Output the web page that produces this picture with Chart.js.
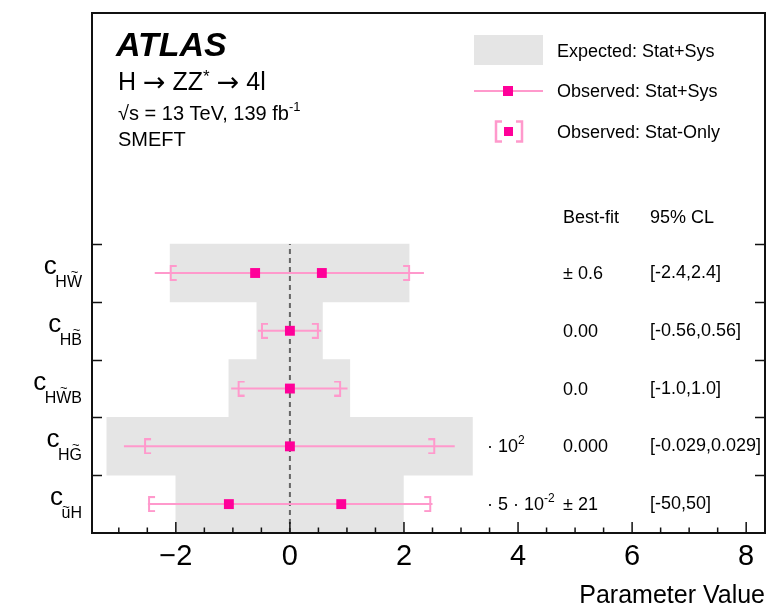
<!DOCTYPE html>
<html>
<head>
<meta charset="utf-8">
<script src="https://cdn.jsdelivr.net/npm/chart.js@4.4.1/dist/chart.umd.min.js"></script>
<style>
  html, body { margin: 0; padding: 0; background: #fff; }
  canvas { display: block; }
</style>
</head>
<body>
<canvas id="smeftChart" width="772" height="609"></canvas>
<script>
// rows, top to bottom
const coefficients = ['HW', 'HB', 'HWB', 'HG', 'uH'];
const tildeIndex = [1, 1, 1, 1, 0];
const rowY = [4.5, 3.5, 2.5, 1.5, 0.5];

// expected (stat+sys) grey band
const expectedLo = [-2.1, -0.58, -1.07, -3.21, -2.0];
const expectedHi = [2.09, 0.57, 1.05, 3.2, 1.99];

// observed
const bestFit = [[-0.61, 0.56], [0], [0], [0], [-1.07, 0.9]];
const statSysLo = [-2.37, -0.56, -1.03, -2.91, -2.49];
const statSysHi = [2.35, 0.55, 1.01, 2.89, 2.5];
const statOnlyLo = [-2.09, -0.49, -0.9, -2.54, -2.47];
const statOnlyHi = [2.09, 0.49, 0.88, 2.53, 2.46];

// right-hand table
const bestFitText = ['± 0.6', '0.00', '0.0', '0.000', '± 21'];
const clText = ['[-2.4,2.4]', '[-0.56,0.56]', '[-1.0,1.0]', '[-0.029,0.029]', '[-50,50]'];
const scaleBase = ['', '', '', '· 10', '· 5 · 10'];
const scaleExp = ['', '', '', '2', '-2'];

const xMajorTicks = [-2, 0, 2, 4, 6, 8];
const xMinorStep = 0.5;
const yRowTicks = [1, 2, 3, 4, 5];

const FONT = '"Liberation Sans", Helvetica, Arial, sans-serif';
const ARROW_FONT = '"DejaVu Sans", sans-serif';
const PINK = '#ff0099';
const PINK_LIGHT = '#ff99cc';
const GREY = '#e5e5e5';

Chart.defaults.font.family = FONT;
Chart.defaults.color = '#000';

// bracket markers: vertical bar sits on the point, serifs point inward
function bracketImage(side) {
  const w = 6, h = 14, lw = 2;
  const c = document.createElement('canvas');
  c.width = 2 * w + 2; c.height = h + lw;
  const g = c.getContext('2d');
  const cx = c.width / 2, top = lw / 2, bot = h + lw / 2;
  const tip = side === 'left' ? cx + w : cx - w;
  g.strokeStyle = PINK_LIGHT;
  g.lineWidth = lw;
  g.beginPath();
  g.moveTo(tip, top); g.lineTo(cx, top); g.lineTo(cx, bot); g.lineTo(tip, bot);
  g.stroke();
  return c;
}

const markerData = [];
bestFit.forEach((pts, i) => pts.forEach(v => markerData.push({ x: v, y: rowY[i] })));

const errorLines = rowY.map((y, i) => ({
  type: 'scatter',
  showLine: true,
  data: [{ x: statSysLo[i], y }, { x: statSysHi[i], y }],
  borderColor: PINK_LIGHT,
  borderWidth: 2,
  pointRadius: 0,
  order: 2
}));

// draws text pieces left to right, returns end x
function drawRun(ctx, parts, x, baseline) {
  parts.forEach(([text, font, dy]) => {
    ctx.font = font;
    ctx.fillText(text, x, baseline + (dy || 0));
    x += ctx.measureText(text).width;
  });
  return x;
}

const atlasDecor = {
  id: 'atlasDecor',
  afterDraw(chart) {
    const { ctx, chartArea: a, scales: { x, y } } = chart;
    ctx.save();

    // frame
    ctx.strokeStyle = '#111';
    ctx.lineWidth = 2;
    ctx.strokeRect(a.left, a.top, a.right - a.left, a.bottom - a.top);

    // inward ticks
    ctx.lineWidth = 1.5;
    ctx.beginPath();
    x.ticks.forEach(t => {
      const px = x.getPixelForValue(t.value);
      const len = xMajorTicks.includes(t.value) ? 11 : 5.5;
      ctx.moveTo(px, a.bottom); ctx.lineTo(px, a.bottom - len);
    });
    yRowTicks.forEach(v => {
      const py = Math.round(y.getPixelForValue(v)) + 0.5;
      ctx.moveTo(a.left, py); ctx.lineTo(a.left + 10, py);
      ctx.moveTo(a.right, py); ctx.lineTo(a.right - 10, py);
    });
    ctx.stroke();

    ctx.fillStyle = '#000';
    ctx.textBaseline = 'alphabetic';

    // y labels: c with subscript and tilde
    coefficients.forEach((sub, i) => {
      const py = y.getPixelForValue(rowY[i]);
      ctx.font = '16px ' + FONT;
      ctx.textAlign = 'left';
      const w = ctx.measureText(sub).width;
      const sx = a.left - 10 - w;
      ctx.fillText(sub, sx, py + 14);
      const k = tildeIndex[i];
      const before = ctx.measureText(sub.slice(0, k)).width;
      const cw = ctx.measureText(sub[k]).width;
      const lower = sub[k] === sub[k].toLowerCase();
      ctx.font = '13px ' + FONT;
      ctx.textAlign = 'center';
      ctx.fillText('~', sx + before + cw / 2, py + (lower ? 7 : 3));
      ctx.font = '26px ' + FONT;
      ctx.textAlign = 'right';
      ctx.fillText('c', sx + 1.5, py + 1);
    });

    // header
    ctx.textAlign = 'left';
    ctx.font = 'italic bold 34px ' + FONT;
    ctx.fillText('ATLAS', 116, 56);
    drawRun(ctx, [
      ['H ', '25px ' + FONT],
      ['\u2192', '27px ' + ARROW_FONT, 1],
      [' ZZ', '25px ' + FONT],
      ['*', '17px ' + FONT, -8],
      [' ', '25px ' + FONT],
      ['\u2192', '27px ' + ARROW_FONT, 1],
      [' 4l', '25px ' + FONT]
    ], 118, 90);
    drawRun(ctx, [
      ['\u221As = 13 TeV, 139 fb', '20px ' + FONT],
      ['-1', '13px ' + FONT, -9]
    ], 118, 120);
    ctx.font = '20px ' + FONT;
    ctx.fillText('SMEFT', 118, 146);

    // legend
    ctx.fillStyle = GREY;
    ctx.fillRect(474, 35, 69, 30);
    ctx.strokeStyle = PINK_LIGHT;
    ctx.lineWidth = 2;
    ctx.beginPath();
    ctx.moveTo(474, 91); ctx.lineTo(543, 91);
    ctx.stroke();
    ctx.lineWidth = 2.5;
    ctx.beginPath();
    ctx.moveTo(502, 121.5); ctx.lineTo(496, 121.5); ctx.lineTo(496, 141.5); ctx.lineTo(502, 141.5);
    ctx.moveTo(516, 121.5); ctx.lineTo(522, 121.5); ctx.lineTo(522, 141.5); ctx.lineTo(516, 141.5);
    ctx.stroke();
    ctx.fillStyle = PINK;
    ctx.fillRect(503, 86, 10, 10);
    ctx.fillRect(504, 127, 9, 9);
    ctx.fillStyle = '#000';
    ctx.font = '18px ' + FONT;
    ctx.fillText('Expected: Stat+Sys', 557, 57);
    ctx.fillText('Observed: Stat+Sys', 557, 97);
    ctx.fillText('Observed: Stat-Only', 557, 138);

    // table on the right
    ctx.fillText('Best-fit', 563, 223);
    ctx.fillText('95% CL', 650, 223);
    rowY.forEach((v, i) => {
      const py = y.getPixelForValue(v);
      ctx.font = '18px ' + FONT;
      ctx.fillText(bestFitText[i], 563, py + 6);
      ctx.fillText(clText[i], 650, py + 5);
      if (scaleBase[i]) {
        drawRun(ctx, [
          [scaleBase[i], '18px ' + FONT],
          [scaleExp[i], '12px ' + FONT, -8]
        ], 487, py + 6);
      }
    });

    ctx.restore();
  }
};

new Chart(document.getElementById('smeftChart'), {
  type: 'scatter',
  data: {
    datasets: [
      {
        type: 'scatter',
        data: markerData,
        pointStyle: 'rect',
        pointRadius: 7,
        backgroundColor: PINK,
        borderColor: PINK,
        borderWidth: 0,
        order: 0
      },
      {
        type: 'scatter',
        data: statOnlyLo.map((v, i) => ({ x: v, y: rowY[i] })),
        pointStyle: bracketImage('left'),
        pointRadius: 5,
        order: 1
      },
      {
        type: 'scatter',
        data: statOnlyHi.map((v, i) => ({ x: v, y: rowY[i] })),
        pointStyle: bracketImage('right'),
        pointRadius: 5,
        order: 1
      },
      ...errorLines,
      {
        type: 'scatter',
        showLine: true,
        data: [{ x: 0, y: 0 }, { x: 0, y: 5 }],
        borderColor: '#666',
        borderDash: [5, 4],
        borderWidth: 2,
        pointRadius: 0,
        order: 3
      },
      {
        type: 'bar',
        indexAxis: 'y',
        data: rowY.map((y, i) => ({ x: [expectedLo[i], expectedHi[i]], y })),
        backgroundColor: GREY,
        borderWidth: 0,
        barPercentage: 1,
        categoryPercentage: 1,
        grouped: false,
        order: 4
      }
    ]
  },
  options: {
    responsive: false,
    animation: false,
    devicePixelRatio: 1,
    events: [],
    layout: { padding: { top: 13, right: 5, left: 0, bottom: 0 } },
    plugins: {
      legend: { display: false },
      tooltip: { enabled: false }
    },
    scales: {
      x: {
        type: 'linear',
        min: -3.47,
        max: 8.33,
        offset: false,
        afterBuildTicks: s => {
          const ticks = [];
          for (let v = -3; v <= 8; v += xMinorStep) ticks.push({ value: v });
          s.ticks = ticks;
        },
        afterFit: s => { s.height = 76; },
        grid: { display: false, drawTicks: false },
        border: { display: false },
        ticks: {
          autoSkip: false,
          maxRotation: 0,
          padding: 7,
          color: '#000',
          font: { size: 29 },
          callback: v => xMajorTicks.includes(v) ? String(v).replace('-', '\u2212') : ''
        },
        title: {
          display: true,
          text: 'Parameter Value',
          align: 'end',
          color: '#000',
          font: { size: 25, lineHeight: 1 },
          padding: 0
        }
      },
      y: {
        type: 'linear',
        min: 0,
        max: 9,
        offset: false,
        afterFit: s => { s.width = 92; },
        ticks: { display: false, stepSize: 1 },
        grid: { display: false },
        border: { display: false }
      }
    }
  },
  plugins: [atlasDecor]
});
</script>
</body>
</html>
